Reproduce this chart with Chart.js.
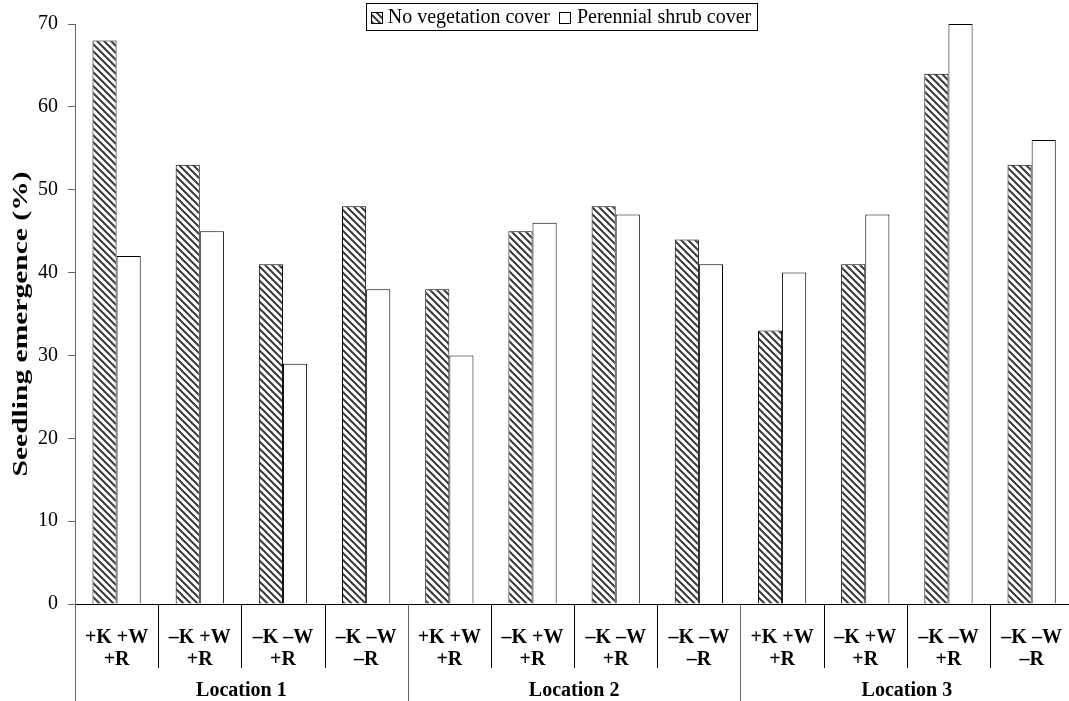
<!DOCTYPE html>
<html>
<head>
<meta charset="utf-8">
<script src="https://cdn.jsdelivr.net/npm/chart.js@4.4.1/dist/chart.umd.min.js"></script>
<style>
  html, body { margin: 0; padding: 0; background: #fff; overflow: hidden; }
  #myChart { position: absolute; left: 0; top: 0; }
</style>
</head>
<body>
<canvas id="myChart" width="1077" height="701"></canvas>
<script>
'use strict';

// treatment labels (two lines each), repeated for every location
let treatments = [
    ['+K +W', '+R'], ['\u2013K +W', '+R'], ['\u2013K \u2013W', '+R'], ['\u2013K \u2013W', '\u2013R'],
    ['+K +W', '+R'], ['\u2013K +W', '+R'], ['\u2013K \u2013W', '+R'], ['\u2013K \u2013W', '\u2013R'],
    ['+K +W', '+R'], ['\u2013K +W', '+R'], ['\u2013K \u2013W', '+R'], ['\u2013K \u2013W', '\u2013R']
];
let locations = ['Location 1', 'Location 2', 'Location 3'];
let groupsPerLocation = 4;

let noVegetation = [68, 53, 41, 48, 38, 45, 48, 44, 33, 41, 64, 53];
let shrubCover = [42, 45, 29, 38, 30, 46, 47, 41, 40, 47, 70, 56];

let yTicks = [0, 10, 20, 30, 40, 50, 60, 70];
let yTitle = 'Seedling emergence (%)';

const serif = '"Liberation Serif", "Times New Roman", serif';

// diagonal hatch for the "no vegetation" bars
function makeHatch() {
    let c = document.createElement('canvas');
    c.width = 7;
    c.height = 7;
    let p = c.getContext('2d');
    p.fillStyle = '#fff';
    p.fillRect(0, 0, 7, 7);
    p.strokeStyle = '#3a3a3a';
    p.lineWidth = 2;
    p.beginPath();
    p.moveTo(-2, -2); p.lineTo(9, 9);
    p.moveTo(-9, -2); p.lineTo(2, 9);
    p.moveTo(5, -2); p.lineTo(16, 9);
    p.stroke();
    return p.createPattern(c, 'repeat');
}
let hatch = makeHatch();

// group separators, location labels, legend and y title
const extras = {
    id: 'extras',
    afterDraw(chart) {
        let ctx = chart.ctx;
        let x = chart.scales.x;
        let area = chart.chartArea;
        let half = (x.getPixelForValue(1) - x.getPixelForValue(0)) / 2;
        let bottom = area.bottom;

        ctx.save();
        ctx.lineWidth = 1;
        for (let i = 0; i <= treatments.length; i++) {
            let px = Math.round(x.getPixelForValue(i) - half) + 0.5;
            let isLoc = i % groupsPerLocation === 0;
            ctx.strokeStyle = isLoc ? '#666' : '#000';
            ctx.beginPath();
            ctx.moveTo(px, bottom);
            ctx.lineTo(px, isLoc ? chart.height : bottom + 64);
            ctx.stroke();
        }

        ctx.fillStyle = '#000';
        ctx.font = 'bold 20px ' + serif;
        ctx.textAlign = 'center';
        ctx.textBaseline = 'middle';
        for (let j = 0; j < locations.length; j++) {
            let a = x.getPixelForValue(j * groupsPerLocation) - half;
            let b = x.getPixelForValue((j + 1) * groupsPerLocation - 1) + half;
            ctx.fillText(locations[j], (a + b) / 2, 691);
        }

        // y axis title, stretched along its length like the original
        ctx.save();
        ctx.translate(21, (area.top + area.bottom) / 2 + 10);
        ctx.rotate(-Math.PI / 2);
        ctx.font = 'bold 22px ' + serif;
        let w = ctx.measureText(yTitle).width;
        ctx.scale(305 / w, 1);
        ctx.fillText(yTitle, 0, 0);
        ctx.restore();

        // legend box
        ctx.font = '20px ' + serif;
        ctx.textAlign = 'left';
        let ds = chart.data.datasets;
        let sw = 12;
        let widths = ds.map(d => ctx.measureText(d.label).width);
        let total = 5 + sw + 5 + widths[0] + 9 + sw + 6 + widths[1] + 5;
        let left = 561 - total / 2;
        let top = 3, h = 27;
        ctx.strokeStyle = '#000';
        ctx.strokeRect(Math.round(left) + 0.5, top + 0.5, Math.round(total), h);
        let cx = left + 5;
        let cy = top + h / 2 + 1;
        for (let k = 0; k < ds.length; k++) {
            ctx.fillStyle = ds[k].backgroundColor;
            ctx.fillRect(Math.round(cx), Math.round(cy - sw / 2), sw, sw);
            ctx.strokeStyle = '#000';
            ctx.strokeRect(Math.round(cx) + 0.5, Math.round(cy - sw / 2) + 0.5, sw - 1, sw - 1);
            cx += sw + (k === 0 ? 5 : 6);
            ctx.fillStyle = '#000';
            ctx.fillText(ds[k].label, cx, cy);
            cx += widths[k] + 9;
        }
        ctx.restore();
    }
};

let ctx = document.getElementById('myChart').getContext('2d');
let chart = new Chart(ctx, {
    type: 'bar',
    data: {
        labels: treatments,
        datasets: [{
            label: 'No vegetation cover',
            data: noVegetation,
            backgroundColor: hatch,
            borderColor: '#000',
            borderWidth: 1,
            categoryPercentage: 0.58,
            barPercentage: 1
        },
        {
            label: 'Perennial shrub cover',
            data: shrubCover,
            backgroundColor: '#fff',
            borderColor: '#000',
            borderWidth: 1,
            categoryPercentage: 0.58,
            barPercentage: 1
        }]
    },
    options: {
        responsive: false,
        devicePixelRatio: 1,
        animation: false,
        layout: { padding: { top: 24, right: 2, left: 0, bottom: 0 } },
        plugins: {
            legend: { display: false },
            tooltip: { enabled: false }
        },
        scales: {
            x: {
                grid: { display: false },
                border: { display: true, color: '#000', width: 1 },
                ticks: {
                    color: '#000',
                    font: { family: serif, size: 20, weight: 'bold', lineHeight: 1.1 },
                    padding: 15,
                    maxRotation: 0,
                    autoSkip: false
                },
                afterFit(scale) { scale.height = 97; }
            },
            y: {
                min: 0,
                max: 70,
                afterBuildTicks(scale) { scale.ticks = yTicks.map(v => ({ value: v })); },
                grid: { drawOnChartArea: false, drawTicks: true, tickLength: 7, color: '#666' },
                border: { display: true, color: '#666', width: 1 },
                ticks: {
                    color: '#000',
                    font: { family: serif, size: 20 },
                    padding: 10
                },
                afterFit(scale) { scale.width = 75; }
            }
        }
    },
    plugins: [extras]
});
</script>
</body>
</html>
